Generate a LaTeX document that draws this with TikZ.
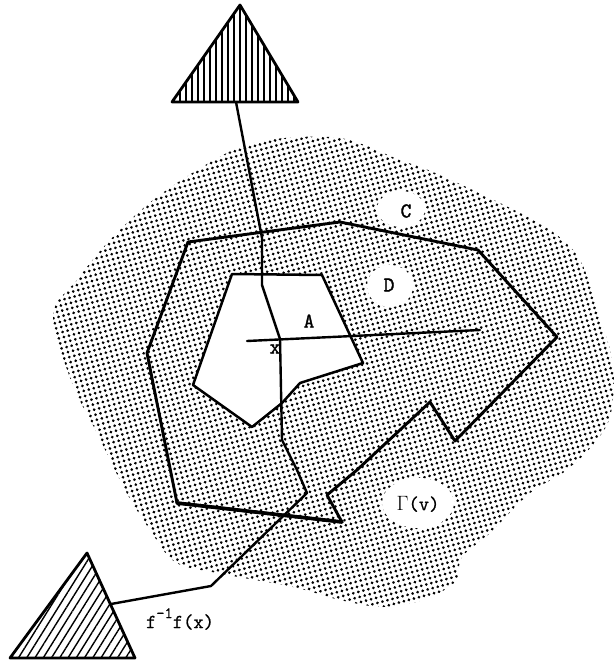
\documentclass[tikz,border=0pt]{standalone}
\usepackage{fontspec}
\newfontfamily\labfont[FakeBold=1.6]{Latin Modern Mono}
\newfontfamily\labfontr[FakeBold=0.8]{Latin Modern Mono}
\usetikzlibrary{patterns.meta}
\tikzset{
  dotfill/.style={pattern={Dots[distance=5.2pt,radius=1.5pt,angle=15]}},
  hole/.style={fill=white},
  cpoly/.style={line width=2.9pt},
  apoly/.style={line width=2.5pt, fill=white},
  track/.style={line width=2.4pt},
  tri/.style={line width=2.8pt},
  lab/.style={font=\labfont\fontsize{21}{21}\selectfont, inner sep=1pt},
  labr/.style={font=\labfontr\fontsize{20}{20}\selectfont, inner sep=1pt},
}
\begin{document}
\begin{tikzpicture}[x=1pt,y=-1pt,line join=round,line cap=round]
\useasboundingbox (0,0) rectangle (614,661);

% dotted region Gamma(v)
\fill[dotfill] plot[smooth cycle, tension=0.55] coordinates {
 (53,315) (77,280) (110,240) (157,197) (223,155) (267,140) (340,138)
 (400,160) (433,172) (500,203) (550,230) (580,260) (600,317) (613,365)
 (611,413) (597,440) (567,470) (530,493) (490,533) (462,557) (455,582)
 (423,600) (383,607) (340,600) (293,587) (217,573) (175,562) (150,530)
 (125,490) (97,433) (72,383)};

% white holes around labels
\fill[hole] (401,209) ellipse [x radius=24, y radius=18];
\fill[hole] (390,286) ellipse [x radius=23, y radius=21];
\fill[hole] (418,503) ellipse [x radius=36, y radius=25];

% polygon A
\coordinate (a1) at (232,274);
\coordinate (a2) at (322,275);
\coordinate (a3) at (363,363);
\coordinate (a4) at (300,383);
\coordinate (a5) at (282,403);
\coordinate (a6) at (252,427);
\coordinate (a7) at (193,385);
\draw[apoly] (a1) -- (a2) -- (a3) -- (a4) -- (a5) -- (a6) -- (a7) -- cycle;

% polygon C
\coordinate (c1) at (188,242);
\coordinate (c2) at (340,222);
\coordinate (c3) at (478,250);
\coordinate (c4) at (557,337);
\coordinate (c5) at (455,441);
\coordinate (c6) at (430,402);
\coordinate (c7) at (357,470);
\coordinate (c8) at (327,495);
\coordinate (c9) at (342,522);
\coordinate (c10) at (177,503);
\coordinate (c11) at (147,353);
\draw[cpoly] (c1) -- (c2) -- (c3) -- (c4) -- (c5) -- (c6) -- (c7) -- (c8) -- (c9) -- (c10) -- (c11) -- cycle;
\draw[line width=3.6pt] (c9) -- (c10);

% triangles
\coordinate (t1a) at (240,5);
\coordinate (t1b) at (298,102);
\coordinate (t1c) at (172,102);
\coordinate (t2a) at (87,553);
\coordinate (t2b) at (135,658);
\coordinate (t2c) at (10,658);
\fill[pattern={Lines[angle=90,distance=6pt,line width=1.4pt]}] (t1a) -- (t1b) -- (t1c) -- cycle;
\draw[tri] (t1a) -- (t1b) -- (t1c) -- cycle;
\fill[pattern={Lines[angle=58,distance=7pt,line width=1.4pt]}] (t2a) -- (t2b) -- (t2c) -- cycle;
\draw[tri] (t2a) -- (t2b) -- (t2c) -- cycle;

% the track from the top triangle to the bottom triangle
\coordinate (p0) at (236,102);
\coordinate (p1) at (262,238);
\coordinate (p2) at (262,285);
\coordinate (px) at (280,339);
\coordinate (p3) at (282,440);
\coordinate (p4) at (297,470);
\coordinate (p5) at (307,493);
\coordinate (p6) at (211,586);
\coordinate (p7) at (111,604);
\draw[track] (p0) -- (p1) -- (p2) -- (px) -- (p3) -- (p4) -- (p5) -- (p6) -- (p7);

% horizontal line through x
\coordinate (h0) at (247,341);
\coordinate (h1) at (480,330);
\draw[track] (h0) -- (h1);

% labels
\node[lab] (lC) at (406,211) {C};
\node[lab] (lD) at (389,285) {D};
\node[lab] (lA) at (309,321) {A};
\node[lab] (lx) at (275,349) {x};
\node[labr] (lG) at (418,504) {$\Gamma$(v)};
\node[labr] (lf) at (180,619) {f\raisebox{0.5em}{\fontsize{16}{16}\selectfont -1}f(x)};
\end{tikzpicture}
\end{document}
